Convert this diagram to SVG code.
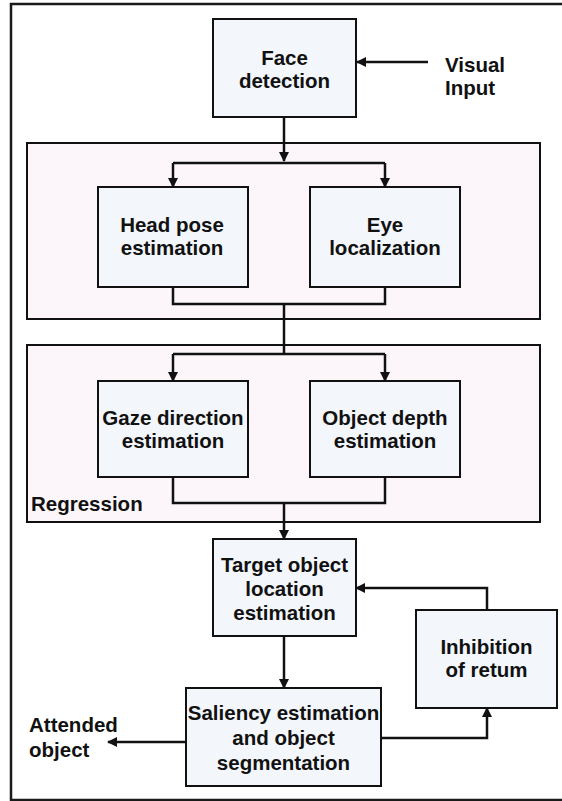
<svg xmlns="http://www.w3.org/2000/svg" width="562" height="801" viewBox="0 0 562 801">
  <style>
    .frame { fill: #ffffff; stroke: #1a1a1a; stroke-width: 2.5; }
    .panel { fill: #fcf6fb; stroke: #111111; stroke-width: 2; }
    .box { fill: #f3f7fc; stroke: #111111; stroke-width: 2; }
    .wire { fill: none; stroke: #111111; stroke-width: 2.5; }
    .t { font-family: "Liberation Sans", Arial, Helvetica, sans-serif; font-weight: bold; font-size: 20.5px; fill: #111111; text-anchor: middle; }
    .tl { text-anchor: start; }
  </style>
  <defs>
    <marker id="arrow" viewBox="0 0 10 10" refX="9" refY="5" markerWidth="4" markerHeight="4" orient="auto" markerUnits="strokeWidth">
      <path d="M0,0 L10,5 L0,10 Z" fill="#111111"/>
    </marker>
  </defs>

  <!-- outer frame: left, top and bottom edges only; the right side runs off the page -->
  <rect x="0" y="0" width="562" height="801" fill="#ffffff"/>
  <path class="frame" fill="none" d="M600,4 H11 V800 H600"/>

  <!-- grouping panels -->
  <g id="panel-pose">
    <rect class="panel" x="27" y="143" width="513" height="176"/>
  </g>
  <g id="panel-regression">
    <rect class="panel" x="27" y="345" width="513" height="177"/>
    <text class="t tl" x="31" y="511">Regression</text>
  </g>

  <!-- nodes -->
  <g id="face-detection">
    <rect class="box" x="213" y="19" width="143" height="98"/>
    <text class="t" x="284.5" y="65">Face</text>
    <text class="t" x="284.5" y="88">detection</text>
  </g>
  <g id="visual-input">
    <text class="t tl" x="445" y="72">Visual</text>
    <text class="t tl" x="445" y="95">Input</text>
  </g>
  <g id="head-pose">
    <rect class="box" x="98" y="187" width="150" height="100"/>
    <text class="t" x="172" y="232">Head pose</text>
    <text class="t" x="172" y="255">estimation</text>
  </g>
  <g id="eye-localization">
    <rect class="box" x="310" y="187" width="150" height="100"/>
    <text class="t" x="385" y="232">Eye</text>
    <text class="t" x="385" y="255">localization</text>
  </g>
  <g id="gaze-direction">
    <rect class="box" x="98" y="381" width="150" height="96"/>
    <text class="t" x="173" y="425">Gaze direction</text>
    <text class="t" x="173" y="448">estimation</text>
  </g>
  <g id="object-depth">
    <rect class="box" x="310" y="381" width="150" height="96"/>
    <text class="t" x="385" y="425">Object depth</text>
    <text class="t" x="385" y="448">estimation</text>
  </g>
  <g id="target-location">
    <rect class="box" x="213" y="539" width="143" height="97"/>
    <text class="t" x="284.5" y="572">Target object</text>
    <text class="t" x="284.5" y="596">location</text>
    <text class="t" x="284.5" y="620">estimation</text>
  </g>
  <g id="inhibition">
    <rect class="box" x="416" y="610" width="141" height="98"/>
    <text class="t" x="486.5" y="654">Inhibition</text>
    <text class="t" x="486.5" y="677">of retum</text>
  </g>
  <g id="saliency">
    <rect class="box" x="186" y="688" width="195" height="98"/>
    <text class="t" x="283.5" y="720">Saliency estimation</text>
    <text class="t" x="283.5" y="745">and object</text>
    <text class="t" x="283.5" y="770">segmentation</text>
  </g>
  <g id="attended-object">
    <text class="t tl" x="29" y="732">Attended</text>
    <text class="t tl" x="29" y="757">object</text>
  </g>

  <!-- connectors -->
  <g id="connectors">
    <path class="wire" d="M428,62 H357" marker-end="url(#arrow)"/>
    <path class="wire" d="M284,117 V161" marker-end="url(#arrow)"/>
    <path class="wire" d="M173,163 H385"/>
    <path class="wire" d="M173,163 V187" marker-end="url(#arrow)"/>
    <path class="wire" d="M385,163 V187" marker-end="url(#arrow)"/>
    <path class="wire" d="M173,287 V304 H385 V287"/>
    <path class="wire" d="M284,304 V354"/>
    <path class="wire" d="M173,354 H385"/>
    <path class="wire" d="M173,354 V381" marker-end="url(#arrow)"/>
    <path class="wire" d="M385,354 V381" marker-end="url(#arrow)"/>
    <path class="wire" d="M173,477 V503 H385 V477"/>
    <path class="wire" d="M284,503 V539" marker-end="url(#arrow)"/>
    <path class="wire" d="M284,636 V688" marker-end="url(#arrow)"/>
    <path class="wire" d="M186,742 H108" marker-end="url(#arrow)"/>
    <path class="wire" d="M381,738 H487 V708" marker-end="url(#arrow)"/>
    <path class="wire" d="M487,610 V588 H356" marker-end="url(#arrow)"/>
  </g>
</svg>
